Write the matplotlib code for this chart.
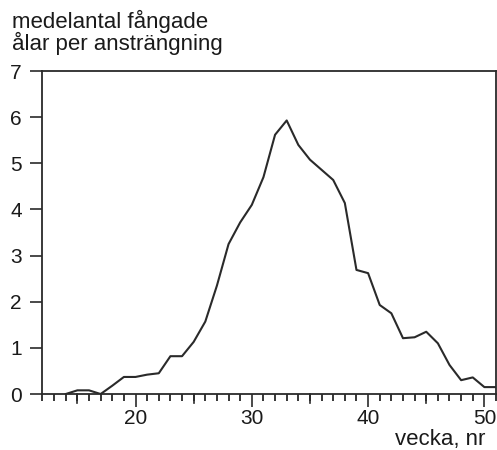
import numpy as np
import matplotlib
matplotlib.use('Agg')
import matplotlib.pyplot as plt
from matplotlib.ticker import MultipleLocator

plt.rcParams['font.family'] = ['Liberation Sans', 'DejaVu Sans']

weeks = list(range(14, 52))
catch = [0.0, 0.08, 0.08, 0.0, 0.18, 0.37, 0.37, 0.42, 0.45, 0.82,
         0.82, 1.13, 1.57, 2.35, 3.25, 3.72, 4.10, 4.70, 5.62, 5.93,
         5.40, 5.08, 4.86, 4.64, 4.14, 2.69, 2.62, 1.93, 1.75, 1.21,
         1.23, 1.35, 1.10, 0.63, 0.30, 0.36, 0.15, 0.15]
y_ticks = [0, 1, 2, 3, 4, 5, 6, 7]
x_labels = [20, 30, 40, 50]

ink = '#2a2a2a'
fig = plt.figure(figsize=(4.97, 4.5), dpi=100)
ax = fig.add_axes([0.0855, 0.1244, 0.9125, 0.7176])
ax.plot(weeks, catch, color=ink, lw=1.5)

ax.set_xlim(12, 51)
ax.set_ylim(0, 7)
ax.set_yticks(y_ticks)
ax.set_xticks(x_labels)
ax.xaxis.set_minor_locator(MultipleLocator(1))
# longer unlabeled ticks every 5 weeks
for w in [15, 25, 35, 45]:
    ax.plot([w, w], [0, -0.19], color=ink, lw=1.2, clip_on=False)

for s in ax.spines.values():
    s.set_color(ink)
    s.set_linewidth(1.3)

ax.tick_params(axis='both', direction='out', colors=ink, labelcolor='#1a1a1a',
               labelsize=15, width=1.2)
ax.tick_params(axis='y', length=9, pad=6)
ax.tick_params(axis='x', which='major', length=9, pad=2)
ax.tick_params(axis='x', which='minor', length=5, width=1.1)

fig.text(0.024, 1 - 28 / 450, 'medelantal fångade', ha='left', va='baseline',
         fontsize=16, color='#1a1a1a')
fig.text(0.024, 1 - 50 / 450, 'ålar per ansträngning', ha='left', va='baseline',
         fontsize=16, color='#1a1a1a')
fig.text(0.976, 5 / 450, 'vecka, nr', ha='right', va='baseline', fontsize=16,
         color='#1a1a1a')

fig.savefig('out.png', dpi=100)
